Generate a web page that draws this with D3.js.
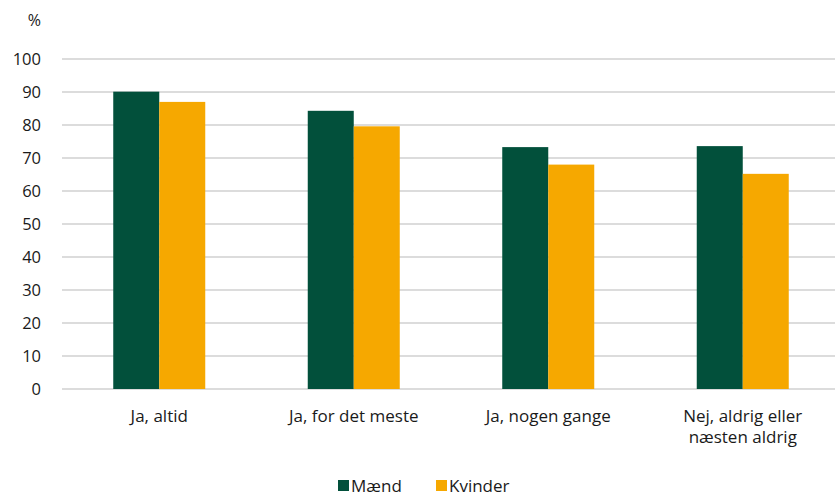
<!DOCTYPE html>
<html>
<head>
<meta charset="utf-8">
<script src="https://cdn.jsdelivr.net/npm/d3@7"></script>
<style>
  body { margin: 0; background: #fff; }
  text { font-family: "Open Sans", Lato, sans-serif; fill: #1a1a1a; }
</style>
</head>
<body>
<svg></svg>
<script>
const categories = [["Ja, altid"], ["Ja, for det meste"], ["Ja, nogen gange"], ["Nej, aldrig eller", "næsten aldrig"]];
const series = ["Mænd", "Kvinder"];
const maend = [90.1, 84.3, 73.3, 73.6];
const kvinder = [87.0, 79.6, 68.0, 65.2];
const yTicks = [0, 10, 20, 30, 40, 50, 60, 70, 80, 90, 100];
const colors = ["#02503b", "#f6a800"];

const W = 835, H = 495;
const margin = { top: 59, right: 0, bottom: 106, left: 62 };
const width = W - margin.left - margin.right,
      height = H - margin.top - margin.bottom;

const svg = d3.select("svg").attr("width", W).attr("height", H);
const g = svg.append("g").attr("transform", `translate(${margin.left},${margin.top})`);

const x = d3.scaleBand().domain(d3.range(categories.length)).range([0, width + 5]);
const xs = d3.scaleBand().domain(series).range([x.bandwidth() / 2 - 46, x.bandwidth() / 2 + 46]);
const y = d3.scaleLinear().domain([0, 100]).range([height, 0]);
const color = d3.scaleOrdinal().domain(series).range(colors);

// grid lines
g.selectAll("line.grid")
    .data(yTicks)
    .enter()
    .append("line")
    .attr("x1", 0).attr("x2", width)
    .attr("y1", d => y(d)).attr("y2", d => y(d))
    .attr("stroke", "#d0d0d0")
    .attr("stroke-width", 1.3);

// y tick labels
g.selectAll("text.ytick")
    .data(yTicks)
    .enter()
    .append("text")
    .attr("x", -21)
    .attr("y", d => y(d))
    .attr("dy", "0.36em")
    .attr("text-anchor", "end")
    .attr("font-size", "16.5px")
    .text(d => d);

svg.append("text")
    .attr("x", 41).attr("y", 26)
    .attr("text-anchor", "end")
    .attr("font-size", "16px")
    .text("%");

// bars
const rows = categories.map((c, i) => ({ i, vals: [maend[i], kvinder[i]] }));
const grp = g.selectAll("g.cat")
    .data(rows)
    .enter()
    .append("g")
    .attr("transform", d => `translate(${x(d.i)},0)`);

grp.selectAll("rect")
    .data(d => d.vals.map((v, j) => ({ key: series[j], v })))
    .enter()
    .append("rect")
    .attr("x", d => xs(d.key))
    .attr("width", xs.bandwidth())
    .attr("y", d => y(d.v))
    .attr("height", d => y(0) - y(d.v))
    .attr("fill", d => color(d.key));

// category labels
grp.append("text")
    .attr("x", x.bandwidth() / 2)
    .attr("y", height + 33)
    .attr("text-anchor", "middle")
    .attr("font-size", "17px")
    .selectAll("tspan")
    .data(d => categories[d.i])
    .enter()
    .append("tspan")
    .attr("x", x.bandwidth() / 2)
    .attr("dy", (d, k) => k === 0 ? 0 : 21)
    .text(d => d);

// legend
const legendX = [338, 436];
series.forEach((s, i) => {
    const row = svg.append("g").attr("transform", `translate(${legendX[i]}, 480)`);
    row.append("rect")
        .attr("width", 11).attr("height", 11)
        .attr("fill", color(s));
    row.append("text")
        .attr("x", 13).attr("y", 11.5)
        .attr("font-size", "17px")
        .text(s);
});
</script>
</body>
</html>
